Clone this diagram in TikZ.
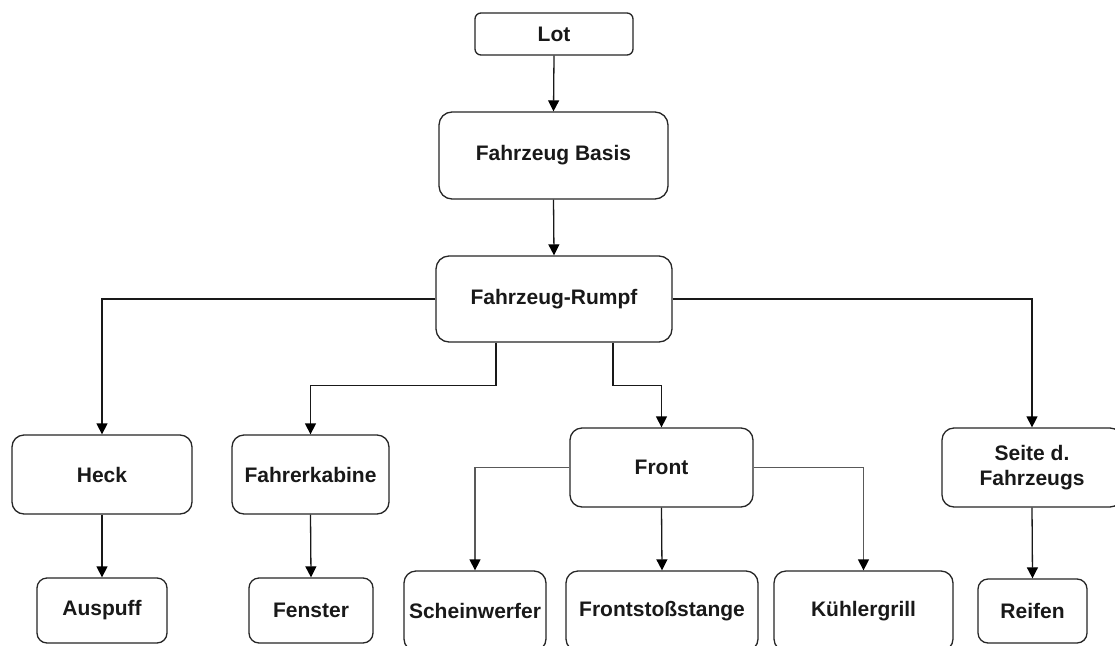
\documentclass[tikz,border=0pt]{standalone}
\usepackage{fontspec}
\setmainfont{Liberation Sans}
\usetikzlibrary{arrows.meta,calc}
\begin{document}
\begin{tikzpicture}[x=1pt,y=-1pt,
  box/.style={draw=black!85,line width=1.3pt,fill=white,text=black!90,align=center,
    font=\fontsize{21}{25.5}\selectfont\bfseries,inner sep=0pt},
  conn/.style={draw=black!90,line width=1.3pt,-{Triangle[length=11pt,width=11pt,color=black]}},
  gconn/.style={conn,draw=black!65}]
\useasboundingbox (0,0) rectangle (1115,645);
\clip (0,0) rectangle (1115,645);
\fill[white] (0,0) rectangle (1115,645);
\node[box,minimum width=158pt,minimum height=42pt,rounded corners=6pt] (lot) at (554,34) {Lot};
\node[box,minimum width=229pt,minimum height=87pt,rounded corners=13pt] (basis) at (553.5,155.5) {Fahrzeug Basis};
\node[box,minimum width=236pt,minimum height=86pt,rounded corners=13pt] (rumpf) at (554,299) {Fahrzeug-Rumpf};
\node[box,minimum width=180pt,minimum height=79pt,rounded corners=12pt] (heck) at (102,474.5) {Heck};
\node[box,minimum width=157pt,minimum height=79pt,rounded corners=12pt] (kabine) at (310.5,474.5) {Fahrerkabine};
\node[box,minimum width=183pt,minimum height=79pt,rounded corners=12pt] (front) at (661.5,467.5) {Front};
\node[box,minimum width=180pt,minimum height=79pt,rounded corners=12pt] (seite) at (1032,467.5) {Seite d.\\Fahrzeugs};
\node[box,minimum width=130pt,minimum height=65pt,rounded corners=10pt] (auspuff) at (102,610.5) {Auspuff};
\node[box,minimum width=124pt,minimum height=65pt,rounded corners=10pt] (fenster) at (311,610.5) {Fenster};
\node[box,minimum width=142pt,minimum height=80pt,rounded corners=12pt] (schein) at (475,611) {Scheinwerfer};
\node[box,minimum width=192pt,minimum height=80pt,rounded corners=12pt] (stoss) at (662,611) {Frontstoßstange};
\node[box,minimum width=179pt,minimum height=80pt,rounded corners=12pt] (kuehl) at (863.5,611) {Kühlergrill};
\node[box,minimum width=109pt,minimum height=64pt,rounded corners=10pt] (reifen) at (1032.5,611) {Reifen};

\draw[conn] (lot.south) -- (basis.north);
\draw[conn] (basis.south) -- (rumpf.north);
\draw[conn] (rumpf.west) -| (heck.north);
\draw[conn] (rumpf.east) -| (seite.north);
\draw[conn] ([xshift=-58pt]rumpf.south) -- ++(0,43) -| (kabine.north);
\draw[conn] ([xshift=59pt]rumpf.south) -- ++(0,43) -| (front.north);
\draw[gconn] (front.west) -| (schein.north);
\draw[conn] (front.south) -- (stoss.north);
\draw[gconn] (front.east) -| (kuehl.north);
\draw[conn] (heck.south) -- (auspuff.north);
\draw[conn] (kabine.south) -- (fenster.north);
\draw[conn] (seite.south) -- (reifen.north);
\end{tikzpicture}
\end{document}
